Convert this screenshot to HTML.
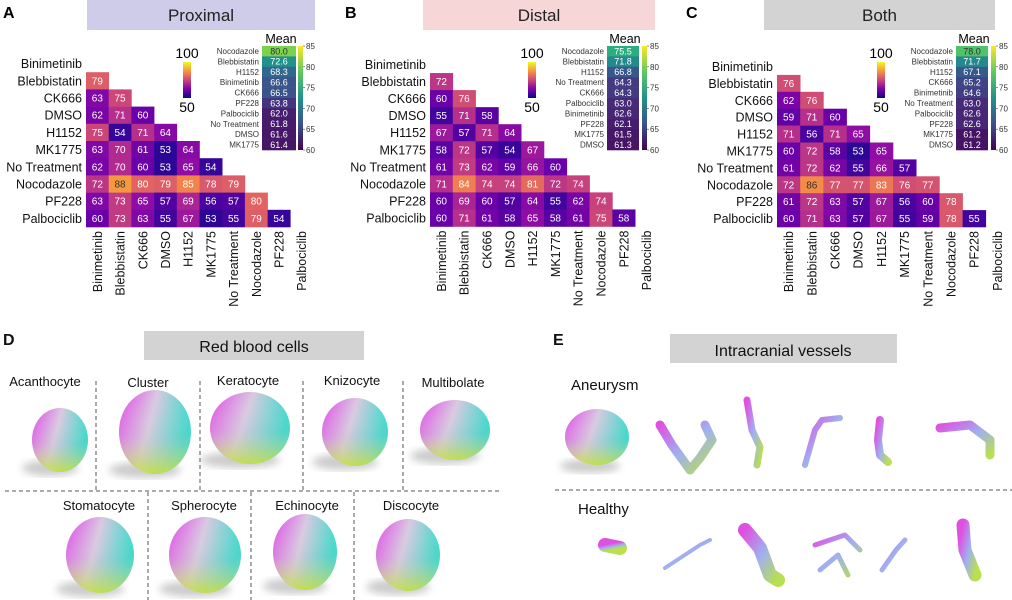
<!DOCTYPE html>
<html><head><meta charset="utf-8"><style>
body{margin:0;background:#fff}
svg{display:block;font-family:"Liberation Sans",sans-serif}
</style></head><body>
<svg id="fig" width="1012" height="600" viewBox="0 0 1012 600">
<defs>
<linearGradient id="cellg" x1="0" y1="0" x2="1" y2="0.3"><stop offset="0" stop-color="#e040e8"/><stop offset="0.5" stop-color="#d8c8e0"/><stop offset="1" stop-color="#30d8c8"/></linearGradient>
<linearGradient id="cellv" x1="0" y1="0" x2="0" y2="1"><stop offset="0" stop-color="#fff" stop-opacity="0"/><stop offset="0.55" stop-color="#ccc" stop-opacity="0.2"/><stop offset="1" stop-color="#c8e040" stop-opacity="0.9"/></linearGradient>
<linearGradient id="vesg" x1="0" y1="0" x2="1" y2="1"><stop offset="0" stop-color="#e050e0"/><stop offset="0.5" stop-color="#a0b0f0"/><stop offset="1" stop-color="#b8e050"/></linearGradient>
<linearGradient id="plasmaBar" x1="0" y1="1" x2="0" y2="0"><stop offset="0" stop-color="#0d0887"/><stop offset="0.25" stop-color="#7e03a8"/><stop offset="0.5" stop-color="#cc4778"/><stop offset="0.75" stop-color="#f89540"/><stop offset="1" stop-color="#f0f921"/></linearGradient>
<linearGradient id="viridisBar" x1="0" y1="1" x2="0" y2="0"><stop offset="0" stop-color="#440154"/><stop offset="0.25" stop-color="#3b528b"/><stop offset="0.5" stop-color="#21918c"/><stop offset="0.75" stop-color="#5ec962"/><stop offset="1" stop-color="#fde725"/></linearGradient>
<filter id="blur"><feGaussianBlur stdDeviation="4"/></filter>
</defs>
<g id="heatmaps"></g>
<g id="bottom"></g>
</svg>
<script>
const labels = ["Binimetinib","Blebbistatin","CK666","DMSO","H1152","MK1775","No Treatment","Nocodazole","PF228","Palbociclib"];
const proximalValues = [[],[79],[63,75],[62,71,60],[75,54,71,64],[63,70,61,53,64],[62,70,60,53,65,54],[72,88,80,79,85,78,79],[63,73,65,57,69,56,57,80],[60,73,63,55,67,53,55,79,54]];
const distalValues = [[],[72],[60,76],[55,71,58],[67,57,71,64],[58,72,57,54,67],[61,73,62,59,66,60],[71,84,74,74,81,72,74],[60,69,60,57,64,55,62,74],[60,71,61,58,65,58,61,75,58]];
const bothValues = [[],[76],[62,76],[59,71,60],[71,56,71,65],[60,72,58,53,65],[61,72,62,55,66,57],[72,86,77,77,83,76,77],[61,72,63,57,67,56,60,78],[60,71,63,57,67,55,59,78,55]];
const proximalMeanLabels = ["Nocodazole","Blebbistatin","H1152","Binimetinib","CK666","PF228","Palbociclib","No Treatment","DMSO","MK1775"];
const proximalMeans = [80.0,72.6,68.3,66.6,66.5,63.8,62.0,61.8,61.6,61.4];
const distalMeanLabels = ["Nocodazole","Blebbistatin","H1152","No Treatment","CK666","Palbociclib","Binimetinib","PF228","MK1775","DMSO"];
const distalMeans = [75.5,71.8,66.8,64.3,64.3,63.0,62.6,62.1,61.5,61.3];
const bothMeanLabels = ["Nocodazole","Blebbistatin","H1152","CK666","Binimetinib","No Treatment","Palbociclib","PF228","MK1775","DMSO"];
const bothMeans = [78.0,71.7,67.1,65.2,64.6,63.0,62.6,62.6,61.2,61.2];
const meanTicks = [85,80,75,70,65,60];
const scaleTicks = [100,50];

const NS="http://www.w3.org/2000/svg";
function mk(tag,attrs,parent,text){const e=document.createElementNS(NS,tag);for(const k in attrs)e.setAttribute(k,attrs[k]);if(text!==undefined)e.textContent=text;parent.appendChild(e);return e;}
const plasma=["#0d0887","#41049d","#6a00a8","#8f0da4","#b12a90","#cc4778","#e16462","#f2844b","#fca636","#fcce25","#f0f921"];
const viridis=["#440154","#482878","#3e4989","#31688e","#26828e","#1f9e89","#35b779","#6ece58","#b5de2b","#fde725"];
function interp(stops,t){t=Math.max(0,Math.min(1,t));const n=stops.length-1,i=Math.min(n-1,Math.floor(t*n)),f=t*n-i;
 const a=stops[i],b=stops[i+1];const c=k=>Math.round(parseInt(a.substr(k,2),16)*(1-f)+parseInt(b.substr(k,2),16)*f);
 return `rgb(${c(1)},${c(3)},${c(5)})`;}

const panels=[
 {key:"proximal",letter:"A",title:"Proximal",lx:3,box:[87,315],boxc:"#cfcce9",x0:86,cw:22.7,y0:55,ch:17.2,vals:proximalValues,ml:proximalMeanLabels,mv:proximalMeans,mx:262,mw:34,cbx:298,sbx:183},
 {key:"distal",letter:"B",title:"Distal",lx:345,box:[423,655],boxc:"#f6d6d6",x0:430,cw:22.8,y0:56,ch:17.05,vals:distalValues,ml:distalMeanLabels,mv:distalMeans,mx:607,mw:32,cbx:642,sbx:528},
 {key:"both",letter:"C",title:"Both",lx:686,box:[764,995],boxc:"#d3d3d3",x0:777,cw:23.2,y0:58,ch:16.9,vals:bothValues,ml:bothMeanLabels,mv:bothMeans,mx:956,mw:32,cbx:991,sbx:877}
];
const H=document.getElementById("heatmaps");
panels.forEach(p=>{
 const g=mk("g",{},H);
 const lt=mk("text",{x:p.lx,y:18,"font-size":16,"font-weight":"bold"},g,p.letter);
 const tb=mk("rect",{x:p.box[0],y:0,width:p.box[1]-p.box[0],height:30,fill:p.boxc},g);
 const tt=mk("text",{x:(p.box[0]+p.box[1])/2,y:21,"font-size":17,"text-anchor":"middle",fill:"#222"},g,p.title);
 labels.forEach((l,i)=>{
  const t=mk("text",{x:p.x0-4,y:p.y0+(i+0.5)*p.ch+4.5,"font-size":12.5,"text-anchor":"end",fill:"#111"},g,l);
  const cx=p.x0+(i+0.5)*p.cw+4.5,cy=p.y0+10*p.ch+4;
  const c=mk("text",{x:cx,y:cy,"font-size":12.5,"text-anchor":"end",transform:`rotate(-90 ${cx} ${cy})`,fill:"#111"},g,l);
 });
 p.vals.forEach((row,i)=>row.forEach((v,j)=>{
  const x=p.x0+j*p.cw,y=p.y0+i*p.ch;
  const r=mk("rect",{x:x,y:y,width:p.cw+0.3,height:p.ch+0.3,fill:interp(plasma,(v-50)/50)},g);
  const t=mk("text",{x:x+p.cw/2,y:y+p.ch/2+3.5,"font-size":10,"text-anchor":"middle",fill:v>85?"#333":"#fff"},g,v);
 }));
 const sb=mk("rect",{x:p.sbx,y:62,width:8,height:36,fill:"url(#plasmaBar)"},g);
 scaleTicks.forEach((s,k)=>{const t=mk("text",{x:p.sbx+4,y:k==0?58:112,"font-size":14,"text-anchor":"middle"},g,s);});
 const mt=mk("text",{x:p.mx+p.mw/2+2,y:43,"font-size":12.5,"text-anchor":"middle"},g,"Mean");
 const top=46,rh=10.4;
 p.mv.forEach((v,i)=>{
  const r=mk("rect",{x:p.mx,y:top+i*rh,width:p.mw,height:rh+0.3,fill:interp(viridis,(v-60)/25)},g);
  const t=mk("text",{x:p.mx+p.mw/2,y:top+i*rh+8.3,"font-size":9,"text-anchor":"middle",fill:v>77?"#333":"#fff"},g,v.toFixed(1));
  const l=mk("text",{x:p.mx-3,y:top+i*rh+8,"font-size":8,"text-anchor":"end",fill:"#333"},g,p.ml[i]);
 });
 const cb=mk("rect",{x:p.cbx,y:top,width:5,height:rh*10,fill:"url(#viridisBar)"},g);
 meanTicks.forEach(m=>{const y=top+(85-m)/25*rh*10;
  mk("line",{x1:p.cbx+5,x2:p.cbx+7,y1:y,y2:y,stroke:"#444","stroke-width":0.6},g);
  const t=mk("text",{x:p.cbx+8,y:y+3,"font-size":8,fill:"#333"},g,m);});
});

const B=document.getElementById("bottom");
function txt(x,y,s,t,anchor,name,w){const e=mk("text",{x:x,y:y,"font-size":s,"text-anchor":anchor||"start",fill:"#111","font-weight":w||"normal"},B,t);return e;}
function dash(x1,y1,x2,y2){const l=mk("line",{x1,y1,x2,y2,stroke:"#555","stroke-width":1,"stroke-dasharray":"4,3"},B);}
txt(3,345,16,"D","start","panel-letter","bold");
let r=mk("rect",{x:144,y:331,width:220,height:29,fill:"#d3d3d3"},B);
txt(254,352,16,"Red blood cells","middle","panel-title");
txt(553,345,16,"E","start","panel-letter","bold");
r=mk("rect",{x:670,y:334,width:227,height:29,fill:"#d3d3d3"},B);
txt(783,356,16,"Intracranial vessels","middle","panel-title");
dash(5,491,502,491);[96,200,303,403].forEach(x=>dash(x,381,x,490));[148,251,354].forEach(x=>dash(x,492,x,600));
dash(555,490,1012,490);
const cellNames=[["Acanthocyte",45,386,60,440,28,32],["Cluster",148,387,155,432,36,42],["Keratocyte",248,385,250,428,40,36],["Knizocyte",352,385,355,432,33,34],["Multibolate",453,387,455,430,35,30],
 ["Stomatocyte",99,510,100,555,34,38],["Spherocyte",204,510,205,555,36,38],["Echinocyte",307,510,305,552,32,38],["Discocyte",411,510,408,555,32,36]];
cellNames.forEach(c=>{
 txt(c[1],c[2],13,c[0],"middle","cell-type-label");
 mk("ellipse",{cx:c[3]-10,cy:c[4]+c[6]-4,rx:c[5],ry:8,fill:"#999",opacity:0.5,filter:"url(#blur)"},B);
 let e=mk("ellipse",{cx:c[3],cy:c[4],rx:c[5],ry:c[6],fill:"url(#cellg)"},B);
 mk("ellipse",{cx:c[3],cy:c[4],rx:c[5],ry:c[6],fill:"url(#cellv)"},B);
});
txt(571,390,15,"Aneurysm","start","group-label");
txt(578,514,15,"Healthy","start","group-label");
mk("ellipse",{cx:590,cy:466,rx:30,ry:7,fill:"#999",opacity:0.5,filter:"url(#blur)"},B);
let an=mk("ellipse",{cx:597,cy:437,rx:32,ry:28,fill:"url(#cellg)"},B);
mk("ellipse",{cx:597,cy:437,rx:32,ry:28,fill:"url(#cellv)"},B);
const vessels=[
 ["M660 425 L672 445 L690 470 L700 458 L712 440 L705 425",9],["M747 400 L752 430 L760 447 L757 465",7],["M805 465 L815 430 L822 420 L840 418",6],["M880 420 L878 440 L880 455 L888 462",8],["M940 428 L970 425 L990 440 L990 455",9],
 ["M605 545 L620 548",14],["M665 568 L700 545 L710 540",4],["M745 530 L760 548 L770 575 L778 580",14],["M815 545 L845 535 L860 550 M820 570 L838 555 L848 575",5],["M882 570 L896 550 L905 540",5],["M963 525 L965 550 L975 575",13]];
vessels.forEach(v=>{const p=mk("path",{d:v[0],fill:"none",stroke:"url(#vesg)","stroke-width":v[1],"stroke-linecap":"round","stroke-linejoin":"round"},B);});
</script>
</body></html>
